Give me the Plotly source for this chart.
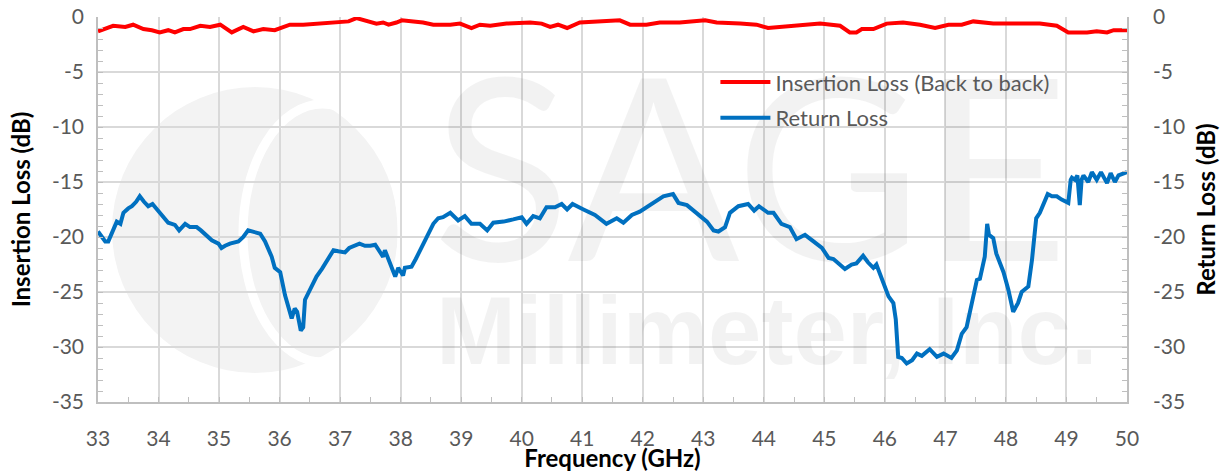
import plotly.graph_objects as go

# ---------------- data ----------------
il_freq = [33.00, 33.25, 33.45, 33.58, 33.75, 33.89, 34.02, 34.16, 34.27, 34.41, 34.52, 34.69,
           34.85, 35.02, 35.21, 35.40, 35.57, 35.73, 35.92, 36.03, 36.17, 36.39, 36.61, 36.83,
           36.97, 37.14, 37.27, 37.44, 37.60, 37.71, 37.80, 37.93, 38.02, 38.21, 38.37, 38.54,
           38.82, 38.98, 39.17, 39.31, 39.48, 39.75, 40.14, 40.33, 40.47, 40.60, 40.75, 40.96,
           41.29, 41.49, 41.62, 41.79, 42.06, 42.28, 42.61, 43.03, 43.22, 43.61, 43.88, 44.07,
           44.27, 44.60, 44.93, 45.26, 45.42, 45.53, 45.62, 45.81, 46.03, 46.30, 46.58, 46.83,
           47.05, 47.27, 47.46, 47.79, 48.23, 48.56, 48.84, 49.03, 49.34, 49.50, 49.67, 49.78,
           49.95, 50.00]
il_db = [-1.3, -0.8, -0.9, -0.7, -1.1, -1.2, -1.4, -1.2, -1.4, -1.1, -1.1, -0.8,
         -0.9, -0.7, -1.4, -0.9, -1.3, -1.1, -1.2, -1.0, -0.7, -0.7, -0.6, -0.5,
         -0.4, -0.4, -0.1, -0.4, -0.6, -0.5, -0.7, -0.5, -0.3, -0.4, -0.5, -0.7,
         -0.7, -0.6, -1.0, -0.7, -0.8, -0.6, -0.5, -0.6, -0.9, -0.7, -1.0, -0.5,
         -0.4, -0.4, -0.3, -0.7, -0.7, -0.5, -0.5, -0.3, -0.5, -0.6, -0.7, -1.0,
         -0.9, -0.7, -0.6, -0.8, -1.4, -1.4, -1.1, -1.1, -0.6, -0.5, -0.7, -1.0,
         -0.7, -0.7, -0.4, -0.6, -0.6, -0.6, -0.8, -1.4, -1.4, -1.3, -1.4, -1.2,
         -1.2, -1.2]

rl_freq = [33.00, 33.07, 33.12, 33.17, 33.24, 33.31, 33.37, 33.42, 33.50, 33.56, 33.63, 33.69,
           33.76, 33.83, 33.90, 33.96, 34.02, 34.09, 34.16, 34.22, 34.27, 34.34, 34.44, 34.52,
           34.63, 34.70, 34.77, 34.88, 34.99, 35.04, 35.10, 35.18, 35.32, 35.40, 35.48, 35.59,
           35.68, 35.76, 35.87, 35.92, 36.01, 36.09, 36.17, 36.20, 36.25, 36.29, 36.35, 36.39,
           36.42, 36.50, 36.53, 36.61, 36.70, 36.78, 36.89, 36.97, 37.08, 37.15, 37.22, 37.32,
           37.41, 37.50, 37.58, 37.66, 37.71, 37.74, 37.82, 37.91, 37.96, 38.04, 38.07, 38.18,
           38.25, 38.32, 38.43, 38.54, 38.62, 38.70, 38.82, 38.95, 39.06, 39.17, 39.31, 39.43,
           39.53, 39.70, 39.86, 40.00, 40.08, 40.19, 40.30, 40.41, 40.55, 40.66, 40.75, 40.84,
           41.02, 41.21, 41.40, 41.57, 41.68, 41.82, 41.95, 42.17, 42.34, 42.50, 42.59, 42.73,
           42.92, 43.06, 43.17, 43.25, 43.36, 43.44, 43.58, 43.74, 43.84, 43.92, 44.07, 44.16,
           44.29, 44.43, 44.54, 44.68, 44.82, 44.96, 45.07, 45.15, 45.34, 45.45, 45.53, 45.64,
           45.72, 45.81, 45.86, 45.97, 46.06, 46.14, 46.18, 46.22, 46.28, 46.36, 46.45, 46.53,
           46.61, 46.74, 46.86, 46.97, 47.10, 47.19, 47.27, 47.35, 47.44, 47.52, 47.57, 47.65,
           47.69, 47.72, 47.79, 47.84, 47.96, 48.04, 48.12, 48.20, 48.26, 48.37, 48.43, 48.50,
           48.56, 48.62, 48.69, 48.76, 48.84, 48.92, 49.03, 49.07, 49.09, 49.14, 49.18, 49.22,
           49.25, 49.28, 49.36, 49.42, 49.50, 49.57, 49.67, 49.73, 49.80, 49.86, 49.96, 50.00]
rl_db = [-19.5, -20.0, -20.4, -20.4, -19.5, -18.6, -18.8, -17.8, -17.4, -17.2, -16.8, -16.3,
         -16.8, -17.2, -17.0, -17.4, -17.8, -18.3, -18.7, -18.8, -18.9, -19.4, -18.8, -19.1,
         -19.1, -19.4, -19.8, -20.3, -20.6, -21.0, -20.8, -20.6, -20.4, -20.0, -19.4, -19.6,
         -19.7, -20.4, -21.8, -22.8, -23.2, -25.3, -26.9, -27.4, -26.5, -26.8, -28.5, -28.2,
         -25.7, -24.8, -24.5, -23.6, -22.9, -22.2, -21.2, -21.3, -21.4, -21.0, -20.8, -20.6,
         -20.8, -20.8, -20.7, -21.3, -21.8, -21.2, -22.4, -23.6, -22.8, -23.5, -22.8, -22.7,
         -22.0, -21.2, -20.0, -18.8, -18.3, -18.2, -17.8, -18.5, -18.1, -18.8, -18.8, -19.4,
         -18.7, -18.6, -18.4, -18.2, -18.8, -18.1, -18.3, -17.3, -17.3, -17.0, -17.5, -17.0,
         -17.5, -18.0, -18.8, -18.3, -18.7, -18.0, -17.7, -16.9, -16.3, -16.1, -16.9, -17.1,
         -18.0, -18.6, -19.4, -19.5, -19.1, -17.8, -17.2, -17.0, -17.6, -17.2, -17.8, -17.8,
         -18.8, -19.1, -20.2, -19.8, -20.4, -21.0, -21.9, -22.0, -22.9, -22.5, -22.4, -21.7,
         -22.3, -22.8, -22.5, -24.2, -25.4, -26.0, -27.5, -30.9, -31.0, -31.5, -31.2, -30.6,
         -30.8, -30.2, -30.9, -30.6, -31.0, -30.3, -28.8, -28.2, -26.0, -23.9, -23.8, -21.8,
         -18.8, -19.8, -20.1, -21.5, -23.2, -24.8, -26.8, -26.0, -25.0, -24.5, -22.1, -18.3,
         -17.8, -17.1, -16.1, -16.3, -16.3, -16.6, -16.9, -14.8, -14.6, -14.8, -14.4, -17.1,
         -14.8, -14.4, -15.0, -14.1, -14.8, -14.1, -15.1, -14.2, -15.0, -14.4, -14.2, -14.1]

x_ticks = list(range(33, 51))
y_ticks = list(range(-35, 1, 5))

series_names = ["Insertion Loss (Back to back)", "Return Loss"]
series_colors = ["#ff0000", "#0070c0"]

watermark_main = "SAGE"
watermark_sub = "<b>Millimeter, Inc.</b>"

FONT = "Lato, 'Open Sans', sans-serif"
TICK_GRAY = "#595959"
GRID = "#d9d9d9"
AXLINE = "#bfbfbf"
WM = "rgba(0,0,0,0.05)"

fig = go.Figure()

# faint watermark text (drawn first so the curves sit on top)
fig.add_trace(go.Scatter(
    x=[43.78], y=[-16.4], mode="text", text=[watermark_main],
    textfont=dict(family="Lato, sans-serif", size=255, color=WM),
    showlegend=False, hoverinfo="skip"))
fig.add_trace(go.Scatter(
    x=[44.05], y=[-29.4], mode="text", text=[watermark_sub],
    textfont=dict(family="Liberation Sans, Arial, sans-serif", size=96, color=WM),
    showlegend=False, hoverinfo="skip"))

fig.add_trace(go.Scatter(
    x=il_freq, y=il_db, mode="lines", name=series_names[0],
    line=dict(color=series_colors[0], width=4), legendgroup="a"))
fig.add_trace(go.Scatter(
    x=rl_freq, y=rl_db, mode="lines", name=series_names[1],
    line=dict(color=series_colors[1], width=4), legendgroup="b", yaxis="y2"))

# logo watermark disc (behind gridlines)
def px_to_paper(x0, y0, x1, y1):
    return dict(x0=(x0 - 98) / 1029, x1=(x1 - 98) / 1029,
                y0=(402 - y1) / 385, y1=(402 - y0) / 385)

fig.add_shape(type="circle", xref="paper", yref="paper", layer="below",
              fillcolor="#f3f3f3", line=dict(width=0), **px_to_paper(112, 87, 398, 373))
fig.add_shape(type="circle", xref="paper", yref="paper", layer="below",
              fillcolor="rgba(0,0,0,0)", line=dict(color="white", width=9),
              **px_to_paper(243, 104, 402, 362))

axis_common = dict(
    showgrid=True, gridcolor=GRID, gridwidth=1.5,
    showline=True, linecolor=AXLINE, linewidth=1.5,
    zeroline=False,
    tickfont=dict(family=FONT, size=21, color=TICK_GRAY),
    ticks="inside", ticklen=5, tickcolor=AXLINE, tickwidth=1.2,
)
TITLE_FONT = dict(family=FONT, size=24, color="black")

fig.update_layout(
    width=1225, height=472,
    margin=dict(l=98, r=98, t=17, b=70, autoexpand=False),
    paper_bgcolor="white", plot_bgcolor="white",
    font=dict(family=FONT, color=TICK_GRAY),
    xaxis=dict(
        range=[33, 50], tickmode="array", tickvals=x_ticks,
        ticktext=[str(v) for v in x_ticks],
        minor=dict(dtick=0.5, tick0=33, ticks="inside", ticklen=5, tickcolor=AXLINE, showgrid=False),
        ticklabelstandoff=17,
        title=dict(text="<b>Frequency (GHz)</b>", font=TITLE_FONT, standoff=1),
        **axis_common),
    yaxis=dict(
        range=[-35, 0], tickmode="array", tickvals=y_ticks,
        ticktext=[str(v) for v in y_ticks],
        minor=dict(dtick=1, tick0=0, ticks="inside", ticklen=5, tickcolor=AXLINE, showgrid=False),
        ticklabelstandoff=8,
        title=dict(text="<b>Insertion Loss (dB)</b>", font=TITLE_FONT, standoff=14),
        **axis_common),
    yaxis2=dict(
        range=[-35, 0], tickmode="array", tickvals=y_ticks,
        ticktext=[str(v) for v in y_ticks],
        overlaying="y", side="right",
        minor=dict(dtick=1, tick0=0, ticks="inside", ticklen=5, tickcolor=AXLINE, showgrid=False),
        ticklabelstandoff=20,
        title=dict(text="<b>Return Loss (dB)</b>", font=TITLE_FONT, standoff=14),
        **{k: v for k, v in axis_common.items() if k not in ("showgrid",)}, showgrid=False),
    legend=dict(
        x=0.600, y=0.885, xanchor="left", yanchor="top",
        bgcolor="rgba(0,0,0,0)", borderwidth=0,
        font=dict(family=FONT, size=22, color=TICK_GRAY),
        itemwidth=50, tracegroupgap=4, traceorder="grouped"),
    showlegend=True,
)

fig.write_html("out.html", config={"displayModeBar": False},
               post_script="document.body.style.margin='0';")
